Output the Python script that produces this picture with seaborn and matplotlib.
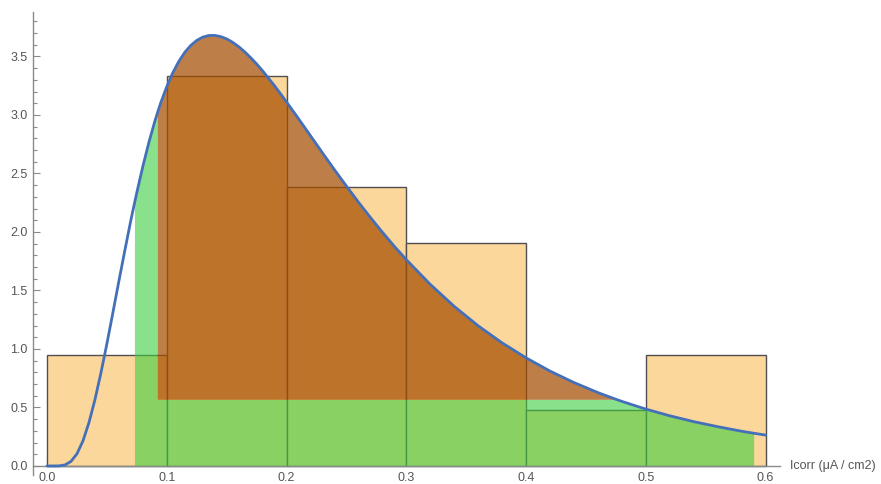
import numpy as np
import matplotlib
matplotlib.use("Agg")
import matplotlib.pyplot as plt
import seaborn as sns
from matplotlib.ticker import MultipleLocator, FormatStrFormatter

# Histogram (density)
bin_edges = [0.0, 0.1, 0.2, 0.3, 0.4, 0.5, 0.6]
bin_centers = [0.05, 0.15, 0.25, 0.35, 0.45, 0.55]
bin_density = [0.952, 3.333, 2.381, 1.905, 0.476, 0.952]

# Fitted density curve
curve_x = [0.0, 0.01, 0.015, 0.02, 0.025, 0.03, 0.035, 0.04, 0.045, 0.05, 0.055,
           0.06, 0.065, 0.07, 0.073, 0.075, 0.08, 0.085, 0.09, 0.092, 0.095,
           0.10, 0.105, 0.11, 0.115, 0.12, 0.125, 0.13, 0.135, 0.14, 0.145,
           0.15, 0.155, 0.16, 0.165, 0.17, 0.175, 0.18, 0.19, 0.20, 0.21,
           0.22, 0.23, 0.24, 0.25, 0.26, 0.27, 0.28, 0.29, 0.30, 0.32, 0.34,
           0.36, 0.38, 0.40, 0.42, 0.44, 0.46, 0.475, 0.48, 0.50, 0.52, 0.54,
           0.56, 0.58, 0.59, 0.60]
curve_y = [0.0, 0.001, 0.009, 0.039, 0.104, 0.214, 0.370, 0.566, 0.795, 1.045, 1.310,
           1.580, 1.843, 2.100, 2.244, 2.338, 2.560, 2.764, 2.945, 3.012, 3.105,
           3.243, 3.360, 3.457, 3.535, 3.594, 3.637, 3.665, 3.679, 3.680, 3.670,
           3.650, 3.621, 3.584, 3.540, 3.490, 3.436, 3.377, 3.249, 3.111, 2.968,
           2.822, 2.676, 2.532, 2.392, 2.255, 2.124, 1.998, 1.877, 1.763, 1.552, 1.364,
           1.198, 1.052, 0.924, 0.811, 0.713, 0.627, 0.570, 0.552, 0.486, 0.429, 0.379,
           0.336, 0.297, 0.280, 0.264]

# shaded ranges
green_from, green_to = 0.073, 0.59
brown_from, brown_to = 0.092, 0.475
brown_base = 0.57

sns.set_style("ticks")
plt.rcParams["font.family"] = ["Liberation Sans", "DejaVu Sans"]

fig = plt.figure(figsize=(8.81, 4.84), dpi=100)
ax = fig.add_axes([33 / 881, 9 / 484, 747 / 881, 463 / 484])

# histogram bars
sns.histplot(x=bin_centers, weights=bin_density, bins=bin_edges, stat="count",
             color="#FCD79B", edgecolor="#505050", linewidth=1, alpha=1, ax=ax)

cx = np.array(curve_x)
cy = np.array(curve_y)

# green area under the curve (below the brown block)
m1 = (cx >= green_from) & (cx <= brown_from)
m2 = (cx >= brown_from) & (cx <= green_to)
gx = np.concatenate([cx[m1], cx[m2]])
gy = np.concatenate([cy[m1], np.minimum(cy[m2], brown_base)])
ax.fill_between(gx, 0, gy, color=(60 / 255, 205 / 255, 62 / 255), alpha=0.6,
                linewidth=0, zorder=2)

# brown area between the curve and the base level
m3 = (cx >= brown_from) & (cx <= brown_to)
ax.fill_between(cx[m3], brown_base, cy[m3], color=(166 / 255, 77 / 255, 0),
                alpha=0.72, linewidth=0, zorder=2)

# density curve
sns.lineplot(x=curve_x, y=curve_y, color="#4470BA", linewidth=2, ax=ax, zorder=3)

ax.set_xlim(-0.0117, 0.612)
ax.set_ylim(-0.077, 3.88)
ax.set_xlabel("")
ax.set_ylabel("")

for s in ["top", "right"]:
    ax.spines[s].set_visible(False)
ax.spines["bottom"].set_position(("data", 0))
for s in ["left", "bottom"]:
    ax.spines[s].set_color("#8a8a8a")
    ax.spines[s].set_linewidth(1)

ax.xaxis.set_major_locator(MultipleLocator(0.1))
ax.xaxis.set_minor_locator(MultipleLocator(0.02))
ax.yaxis.set_major_locator(MultipleLocator(0.5))
ax.yaxis.set_minor_locator(MultipleLocator(0.1))
ax.xaxis.set_major_formatter(FormatStrFormatter("%.1f"))
ax.yaxis.set_major_formatter(FormatStrFormatter("%.1f"))
ax.tick_params(which="both", direction="in", color="#8a8a8a", width=0.8,
               labelcolor="#555555", labelsize=9)
ax.tick_params(which="major", length=5)
ax.tick_params(which="minor", length=3)
ax.tick_params(axis="x", pad=4)
ax.tick_params(axis="y", pad=4)

ax.text(0.6207, 0, "Icorr (\u03bcA / cm2)", ha="left", va="center",
        fontsize=9, color="#555555", clip_on=False)

fig.savefig("out.png", dpi=100)
